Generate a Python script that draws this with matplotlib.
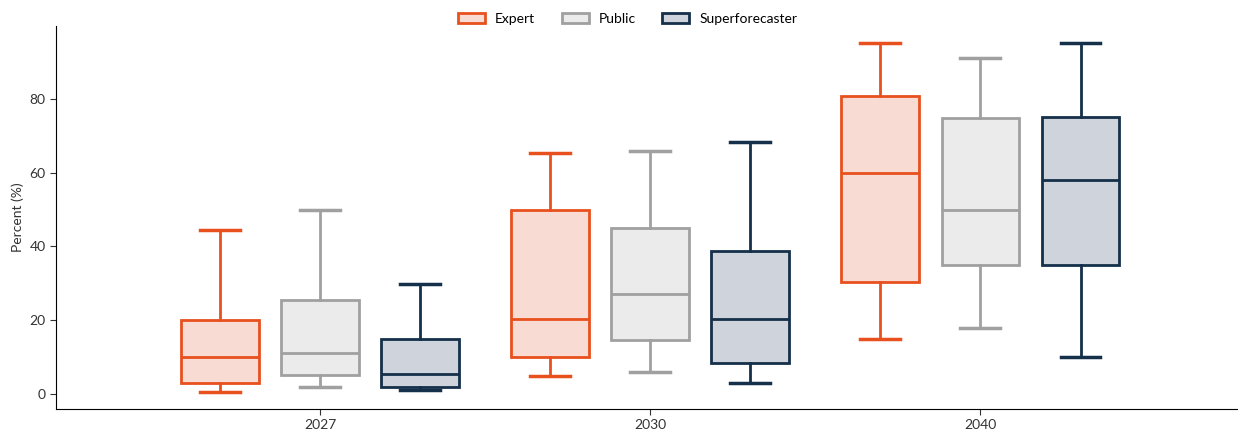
import matplotlib.pyplot as plt
from matplotlib.patches import Patch

years = ['2027', '2030', '2040']
groups = ['Expert', 'Public', 'Superforecaster']

# per group: one value per year
whislo = {'Expert': [0.5, 4.9, 14.9], 'Public': [1.9, 6.0, 17.9], 'Superforecaster': [1.1, 3.0, 10.0]}
q1 = {'Expert': [3.0, 10.0, 30.4], 'Public': [5.2, 14.6, 35.0], 'Superforecaster': [1.9, 8.4, 35.0]}
med = {'Expert': [10.0, 20.3, 59.9], 'Public': [11.1, 27.1, 49.9], 'Superforecaster': [5.4, 20.3, 58.0]}
q3 = {'Expert': [20.1, 49.9, 80.8], 'Public': [25.5, 45.0, 74.8], 'Superforecaster': [14.9, 38.8, 75.1]}
whishi = {'Expert': [44.5, 65.4, 95.2], 'Public': [49.9, 65.9, 91.1], 'Superforecaster': [29.8, 68.3, 95.2]}

edge = {'Expert': '#E8501E', 'Public': '#A0A0A0', 'Superforecaster': '#14304A'}
fill = {'Expert': '#F8DCD3', 'Public': '#EBEBEB', 'Superforecaster': '#CFD4DC'}
offset = {'Expert': -0.303, 'Public': 0.0, 'Superforecaster': 0.303}

plt.rcParams['font.family'] = ['Lato', 'DejaVu Sans']

fig = plt.figure(figsize=(12.38, 4.29), dpi=100)
ax = fig.add_axes([56 / 1238, 1 - 409 / 429, 1 - 56 / 1238, (409 - 26) / 429])

for g in groups:
    stats = []
    for i in range(len(years)):
        stats.append({'whislo': whislo[g][i], 'q1': q1[g][i], 'med': med[g][i],
                      'q3': q3[g][i], 'whishi': whishi[g][i], 'fliers': []})
    pos = [i + offset[g] for i in range(len(years))]
    c = edge[g]
    ax.bxp(stats, positions=pos, widths=0.236, patch_artist=True, showfliers=False,
           boxprops=dict(facecolor=fill[g], edgecolor=c, linewidth=2),
           medianprops=dict(color=c, linewidth=2),
           whiskerprops=dict(color=c, linewidth=2),
           capprops=dict(color=c, linewidth=2.5), capwidths=0.121,
           manage_ticks=False)

ax.set_xlim(-0.8, 2.78)
ax.set_ylim(-4.1, 99.8)
ax.set_xticks(range(len(years)))
ax.set_xticklabels(years)
ax.set_yticks([0, 20, 40, 60, 80])
ax.set_ylabel('Percent (%)', fontsize=10, color='#333333')
ax.tick_params(labelsize=10, colors='#333333', length=4)
for s in ['top', 'right']:
    ax.spines[s].set_visible(False)

handles = [Patch(facecolor=fill[g], edgecolor=edge[g], linewidth=2, label=g) for g in groups]
fig.legend(handles=handles, loc='upper center', bbox_to_anchor=(0.507, 1.0), ncol=3,
           frameon=False, fontsize=10, handlelength=1.95, handleheight=0.8,
           handletextpad=0.72, columnspacing=1.9)

fig.savefig('out.png', dpi=100)
